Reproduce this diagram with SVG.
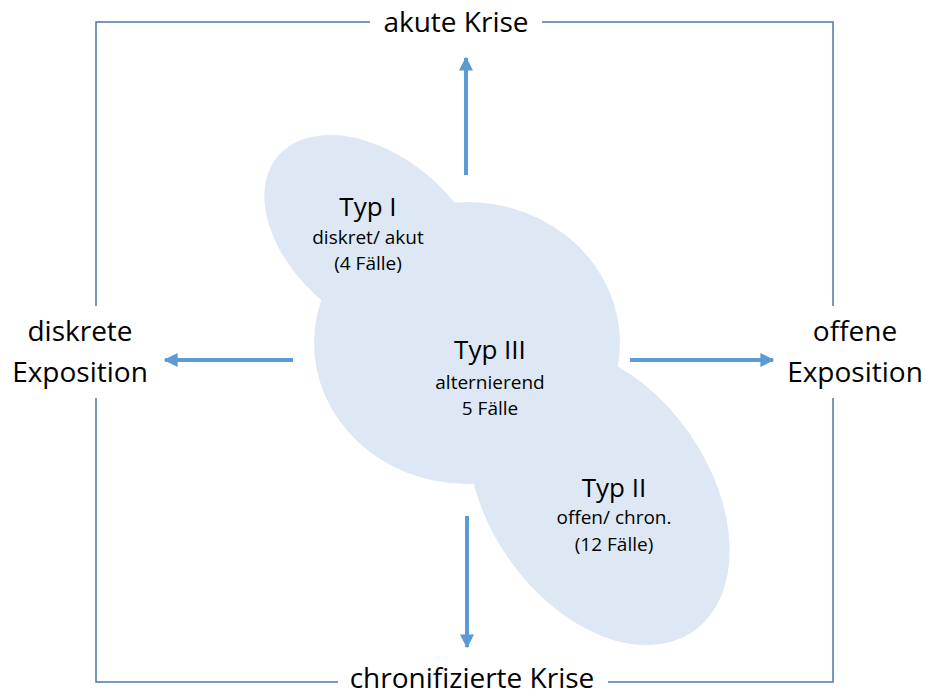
<svg xmlns="http://www.w3.org/2000/svg" width="927" height="695" viewBox="0 0 927 695">
<defs>
<style>
.frame{fill:none;stroke:#4A78A8;stroke-width:1.5}
.blob{fill:#DEE8F5;stroke:none}
.arr{stroke:#5B9BD5;stroke-width:4;fill:none;marker-end:url(#ah)}
text{font-family:"Open Sans","Liberation Sans",sans-serif;fill:#000;text-anchor:middle}
.big{font-size:28px}
.title{font-size:26px}
.sub{font-size:19px}
</style>
<marker id="ah" viewBox="0 0 10 10" refX="9" refY="5" markerWidth="3.5" markerHeight="3.5" orient="auto" markerUnits="strokeWidth">
<path d="M0,0 L10,5 L0,10 z" fill="#5B9BD5"/>
</marker>
</defs>
<rect width="927" height="695" fill="#fff"/>
<g id="frame">
<path class="frame" d="M370,22 H96 V306 M96,398 V682 H338 M608,682 H833 V398 M833,306 V22 H542"/>
</g>
<g id="blobs">
<ellipse id="typ1-shape" class="blob" cx="375" cy="238" rx="127" ry="82" transform="rotate(40 375 238)"/>
<ellipse id="typ2-shape" class="blob" cx="599" cy="496" rx="165" ry="110" transform="rotate(55 599 496)"/>
<ellipse id="typ3-shape" class="blob" cx="467" cy="343" rx="153" ry="141"/>
</g>
<g id="connectors">
<line class="arr" x1="466" y1="175" x2="466" y2="58"/>
<line class="arr" x1="467" y1="516" x2="467" y2="647"/>
<line class="arr" x1="293" y1="360" x2="165" y2="360"/>
<line class="arr" x1="630" y1="360" x2="773" y2="360"/>
</g>
<g id="akute">
<text class="big" x="456" y="32">akute Krise</text>
</g>
<g id="chron">
<text class="big" x="472" y="688">chronifizierte Krise</text>
</g>
<g id="diskrete">
<text class="big" x="80" y="341">diskrete</text>
<text class="big" x="80" y="382">Exposition</text>
</g>
<g id="offene">
<text class="big" x="855" y="341">offene</text>
<text class="big" x="855" y="382">Exposition</text>
</g>
<g id="typ1">
<text class="title" x="368" y="216">Typ I</text>
<text class="sub" x="368" y="244">diskret/ akut</text>
<text class="sub" x="368" y="270">(4 Fälle)</text>
</g>
<g id="typ3">
<text class="title" x="490" y="359">Typ III</text>
<text class="sub" x="490" y="389">alternierend</text>
<text class="sub" x="490" y="415">5 Fälle</text>
</g>
<g id="typ2">
<text class="title" x="614" y="497">Typ II</text>
<text class="sub" x="614" y="524">offen/ chron.</text>
<text class="sub" x="614" y="551">(12 Fälle)</text>
</g>
</svg>
